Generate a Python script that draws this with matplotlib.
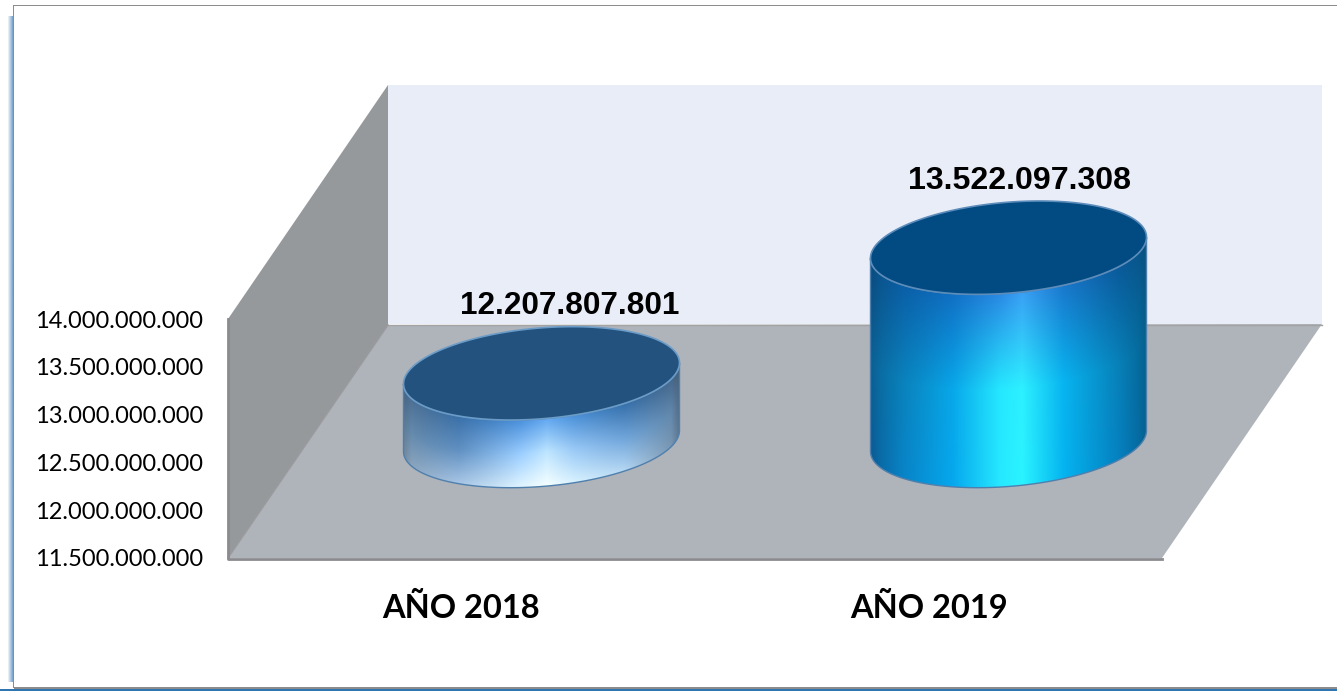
import numpy as np
import matplotlib
matplotlib.use("Agg")
import matplotlib.pyplot as plt
from matplotlib.colors import to_rgb
from matplotlib.patches import Polygon, Rectangle
from matplotlib.transforms import Affine2D

# ----------------------------------
# 1) Data
# ----------------------------------
years = ["AÑO 2018", "AÑO 2019"]
values = [12207807801, 13522097308]
y_ticks = [11500000000, 12000000000, 12500000000, 13000000000, 13500000000, 14000000000]

W, H = 1337, 691
DEPTH_X, DEPTH_Y = 80, 117   # bars sit halfway into the floor
A, B, SHEAR = 138, 45.5, -0.076  # ellipse half axes, tilt


def dots(v):
    return f"{v:,}".replace(",", ".")


fig = plt.figure(figsize=(W / 100, H / 100), dpi=100, facecolor="white")
ax = fig.add_axes([228 / W, (H - 558) / H, (1162 - 228) / W, 239 / H])
ax.set_autoscale_on(False)
ax.set_xlim(-0.5, 1.5)
ax.set_ylim(y_ticks[0], y_ticks[-1])
ax.set_frame_on(False)
ax.patch.set_visible(False)

# pixel coordinates, origin top left like the picture
px = Affine2D().scale(1, -1).translate(0, H)


def poly(pts, **kw):
    p = Polygon(pts, closed=True, transform=px, clip_on=False, **kw)
    ax.add_patch(p)
    return p


# ----------------------------------
# 2) Frame
# ----------------------------------
shade = np.ones((1, 6, 3))
for i in range(6):
    shade[0, i] = np.array(to_rgb("white")) * (1 - i / 5) + np.array(to_rgb("#7fa9cf")) * (i / 5)
ax.imshow(shade, extent=(7, 13, 682, 16), transform=px, aspect="auto",
          interpolation="bilinear", clip_on=False, zorder=0)
ax.add_patch(Rectangle((0, 688.5), W, 3, transform=px, color="#2e75b2", lw=0, clip_on=False, zorder=1))
ax.add_patch(Rectangle((14, 687), W, 1.6, transform=px, color="#8c8c8c", lw=0, clip_on=False, zorder=1))
ax.add_patch(Rectangle((12.5, 5), 1.5, 683, transform=px, color="#8c8c8c", lw=0, clip_on=False, zorder=1))
ax.add_patch(Rectangle((12.5, 5), W, 1.4, transform=px, color="#8c8c8c", lw=0, clip_on=False, zorder=1))

# ----------------------------------
# 3) Walls and floor
# ----------------------------------
poly([(388, 85), (1322, 85), (1322, 324), (388, 324)], fc="#e9edf8", ec="none", zorder=2)
poly([(228, 319), (388, 85), (388, 325), (228, 558)], fc="#96999c", ec="none", zorder=2)
poly([(388, 325), (1322, 324), (1162, 558), (228, 558)], fc="#afb3ba", ec="none", zorder=3)
ax.plot([388, 1322], [324.5, 324.5], transform=px, color="#a3a3a3", lw=1, clip_on=False, zorder=3)
ax.plot([228, 388], [558, 325], transform=px, color="#9a9a9e", lw=1, clip_on=False, zorder=3)
ax.plot([228, 228, 1162], [319, 558.5, 558.5], transform=px, color="#8b8b8f", lw=2, clip_on=False, zorder=4)

# ----------------------------------
# 4) Cylinders
# ----------------------------------
side_x = [
    [0, .03, .2, .42, .52, .62, .8, .97, 1],
    [0, .04, .12, .3, .47, .55, .7, .9, .97, 1],
]
side_rows = [
    [["#46627f", "#4d7094", "#3a70a8", "#4a90dc", "#62a8f2", "#4a90d8", "#3670aa", "#46688c", "#465f78"],
     ["#5c7894", "#648aac", "#6090c2", "#9acdff", "#bfe6ff", "#98c8f6", "#6ea4da", "#6288ac", "#506a84"],
     ["#71879c", "#8aa4be", "#a8c6e6", "#e0f5ff", "#f6ffff", "#d8f2ff", "#b6d8f4", "#7896b2", "#5a7590"]],
    [["#0a4a7e", "#0a5590", "#0a5fa6", "#1170c4", "#2a8ae4", "#3aa0f5", "#1a78cc", "#0a5a9a", "#08568c", "#085080"],
     ["#0a5f92", "#0a6ea4", "#0a82bc", "#08a8ea", "#25e8ff", "#2df0ff", "#08b4f0", "#0880b8", "#066c9e", "#06608c"],
     ["#0a5a92", "#0a6ca8", "#0884c8", "#06a8ee", "#26e8ff", "#2af4ff", "#04b4f0", "#0580c0", "#056ca2", "#05608f"]],
]
caps = ["#23527f", "#024a82"]
cap_edges = ["#6b9cc8", "#5c8cba"]
label_dx = [28, 11]
label_sizes = [22.7, 23.1]

t = np.linspace(0, 2 * np.pi, 240)
t_front = np.linspace(0, np.pi, 120)


def ellipse(cx, cy, tt):
    xs = cx + A * np.cos(tt)
    ys = cy + B * np.sin(tt) + SHEAR * (xs - cx)
    return xs, ys


for i, v in enumerate(values):
    # position comes from the axes scales, then pushed back on the floor
    x_d, y_d = ax.transData.transform((i, v))
    _, y0_d = ax.transData.transform((i, y_ticks[0]))
    cx = x_d + DEPTH_X
    top = H - y_d - DEPTH_Y
    base = H - y0_d - DEPTH_Y

    fx_top, fy_top = ellipse(cx, top, t_front)
    fx_bot, fy_bot = ellipse(cx, base, t_front)
    outline = np.column_stack([np.r_[fx_top, fx_bot[::-1]], np.r_[fy_top, fy_bot[::-1]]])

    # side shading: colours across the width for a few heights
    x0, x1 = int(cx - A - 2), int(cx + A + 3)
    y0, y1 = int(top - 60), int(base + 60)
    gx = np.arange(x0, x1) + 0.5
    gy = np.arange(y0, y1) + 0.5
    u = np.clip((gx - (cx - A)) / (2 * A), 0, 1)
    front = np.sqrt(np.clip(1 - ((gx - cx) / A) ** 2, 0, 1)) * B + SHEAR * (gx - cx)
    rows = np.array([[np.interp(u, side_x[i], [to_rgb(c)[k] for c in row]) for k in range(3)]
                     for row in side_rows[i]])  # row, channel, x
    img = np.zeros((len(gy), len(gx), 3))
    for j, xj in enumerate(gx):
        vv = np.clip((gy - (top + front[j])) / (base - top), 0, 1)
        for k in range(3):
            img[:, j, k] = np.interp(vv, [0, .5, 1], rows[:, k, j])

    clip = Polygon(outline, closed=True, transform=px, fc="none", ec="#4f80ad", lw=1, clip_on=False, zorder=7)
    ax.add_patch(clip)
    im = ax.imshow(img, extent=(x0, x1, y1, y0), transform=px, aspect="auto",
                   interpolation="bilinear", zorder=5)
    im.set_clip_box(fig.bbox)
    im.set_clip_path(clip)

    ex, ey = ellipse(cx, top, t)
    poly(np.column_stack([ex, ey]), fc=caps[i], ec=cap_edges[i], lw=1.2, zorder=8)

    ax.text(cx + label_dx[i], top - 67, dots(v), transform=px, ha="center", va="center",
            family="Liberation Sans", fontweight="bold", fontsize=label_sizes[i], color="black", zorder=9)

# ----------------------------------
# 5) Axis labels
# ----------------------------------
ax.set_yticks(y_ticks, [dots(v) for v in y_ticks], family="Lato", fontsize=17)
ax.set_xticks(range(len(years)), years, family="Lato", fontweight="bold", fontsize=23.5)
ax.tick_params(axis="y", length=0, pad=18, labelcolor="black")
ax.tick_params(axis="x", length=0, pad=25, labelcolor="black")
ax.set_xlim(-0.5, 1.5)
ax.set_ylim(y_ticks[0], y_ticks[-1])

fig.savefig("out.png", dpi=100)
plt.close(fig)
